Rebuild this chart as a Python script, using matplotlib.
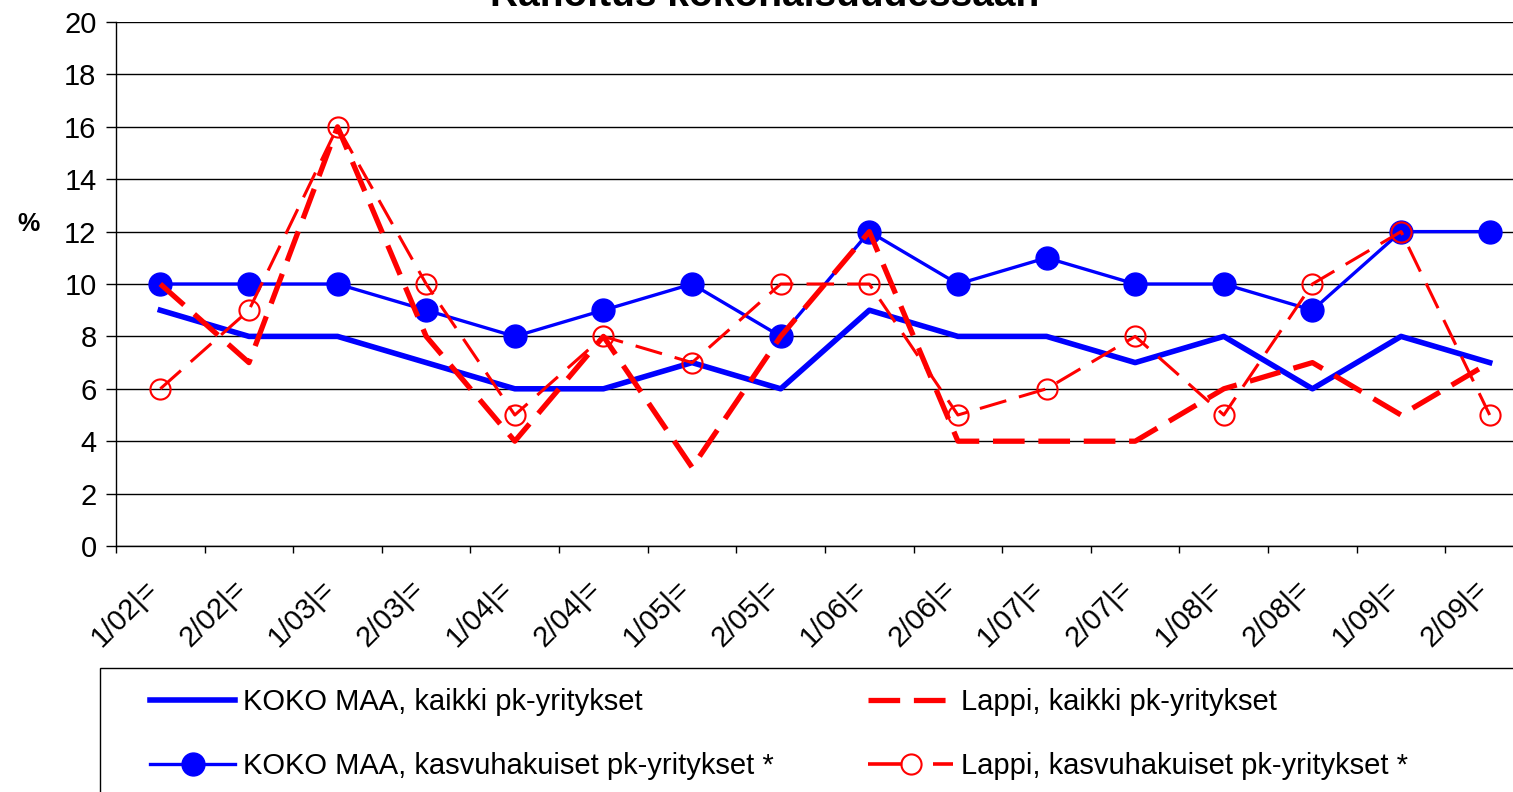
"""Rahoitus kokonaisuudessaan: KOKO MAA vs Lappi, half-year barometer series."""

import matplotlib

matplotlib.use("Agg")
import matplotlib.pyplot as plt
import matplotlib.transforms as mtransforms
from matplotlib.lines import Line2D
from matplotlib.patches import Rectangle

plt.rcParams["font.family"] = ["Liberation Sans", "DejaVu Sans"]

# ---------------------------------------------------------------------------
# Data (%)
# ---------------------------------------------------------------------------
categories = [
    "1/02|=", "2/02|=", "1/03|=", "2/03|=", "1/04|=", "2/04|=", "1/05|=", "2/05|=",
    "1/06|=", "2/06|=", "1/07|=", "2/07|=", "1/08|=", "2/08|=", "1/09|=", "2/09|=",
]
koko_kaikki = [9, 8, 8, 7, 6, 6, 7, 6, 9, 8, 8, 7, 8, 6, 8, 7]
koko_kasvu = [10, 10, 10, 9, 8, 9, 10, 8, 12, 10, 11, 10, 10, 9, 12, 12]
lappi_kaikki = [10, 7, 16, 8, 4, 8, 3, 8, 12, 4, 4, 4, 6, 7, 5, 7]
lappi_kasvu = [6, 9, 16, 10, 5, 8, 7, 10, 10, 5, 6, 8, 5, 10, 12, 5]

series_labels = [
    "KOKO MAA, kaikki pk-yritykset",
    "KOKO MAA, kasvuhakuiset pk-yritykset *",
    "Lappi, kaikki pk-yritykset",
    "Lappi, kasvuhakuiset pk-yritykset *",
]
y_ticks = list(range(0, 21, 2))
title = "Rahoitus kokonaisuudessaan"

BLUE = "#0000FF"
RED = "#FF0000"

W, H = 1513, 792
fig = plt.figure(figsize=(W / 100, H / 100), dpi=100)

# plot area runs off the right edge of the picture, as in the original
left, right, top, bottom = 116, 1534, 22, 546
ax = fig.add_axes([left / W, 1 - bottom / H, (right - left) / W, (bottom - top) / H])

x = list(range(len(categories)))
h1, = ax.plot(x, koko_kaikki, color=BLUE, lw=4.0, label=series_labels[0], zorder=3)
h2, = ax.plot(x, koko_kasvu, color=BLUE, lw=2.4, marker="o", markersize=16.5,
              markerfacecolor=BLUE, markeredgecolor=BLUE,
              label=series_labels[1], zorder=4)
h3, = ax.plot(x, lappi_kaikki, color=RED, lw=3.8, dashes=(6, 2.6),
              label=series_labels[2], zorder=5)
ax.plot(x, lappi_kasvu, color=RED, lw=2.2, dashes=(9, 4.3), marker="o",
        markersize=14.5, markerfacecolor="none", markeredgecolor=RED,
        markeredgewidth=1.5, zorder=6)
# legend sample for the Lappi growth series: short dash, circle, short dash
h4 = Line2D([], [], color=RED, lw=2.6, dashes=(9.5, 8.5), marker="o",
            markersize=14.5, markerfacecolor="none", markeredgecolor=RED,
            markeredgewidth=1.5, label=series_labels[3])

ax.set_xlim(-0.5, len(categories) - 0.5)
ax.set_ylim(0, 20)
ax.set_yticks(y_ticks)
ax.set_yticklabels([str(v) for v in y_ticks], fontsize=21)
ax.set_xticks(x)
ax.set_xticklabels(categories, fontsize=21, rotation=45, ha="right",
                   va="center", rotation_mode="anchor")
ax.set_xticks([i - 0.5 for i in range(len(categories) + 1)], minor=True)
ax.tick_params(axis="x", which="major", length=0, pad=28)
ax.tick_params(axis="x", which="minor", length=5, width=1, color="black")
ax.tick_params(axis="y", length=7, width=1, color="black", pad=7)

# nudge the slanted category labels a little to the left
shift = mtransforms.ScaledTranslation(-7 / 100, 0, fig.dpi_scale_trans)
for lbl in ax.get_xticklabels():
    lbl.set_transform(lbl.get_transform() + shift)

ax.grid(axis="y", color="black", lw=1.0)
ax.set_axisbelow(True)
for side in ("top", "right"):
    ax.spines[side].set_visible(False)
ax.spines["left"].set_linewidth(1.0)
ax.spines["bottom"].set_linewidth(1.0)

fig.text(28 / W, 1 - 224 / H, "%", fontsize=18, fontweight="bold",
         ha="center", va="center")

# title sits mostly above the top edge of the picture
fig.text(765 / W, 1 - 6 / H, title, fontsize=28, fontweight="bold",
         ha="center", va="baseline")

# legend box, running off the bottom/right of the picture
fig.add_artist(Rectangle((100 / W, -0.05), 1.0, 1 - 668 / H + 0.05,
                         transform=fig.transFigure, fill=False,
                         edgecolor="black", lw=1.0))
fig.legend(handles=[h1, h2, h3, h4], loc="upper left", ncol=2,
           bbox_to_anchor=(124 / W, 1 - 662 / H), frameon=False,
           fontsize=21, handlelength=2.9, handletextpad=0.27,
           columnspacing=3.25, labelspacing=1.23)

fig.savefig("out.png", dpi=100)
